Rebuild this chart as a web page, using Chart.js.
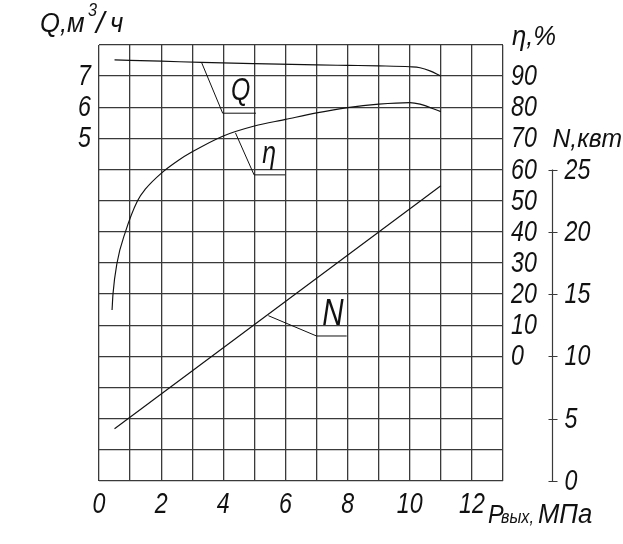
<!DOCTYPE html>
<html><head><meta charset="utf-8">
<script src="https://cdn.jsdelivr.net/npm/chart.js@4/dist/chart.umd.min.js"></script>
<style>html,body{margin:0;padding:0;background:#fff}</style>
</head><body>
<canvas id="c" width="623" height="544"></canvas>
<script>
// ---- data ----
const pressureQ = [0.5, 2.0, 3.3, 5.0, 7.0, 8.0, 9.0, 10.0, 10.33, 10.65, 11.0];
const flowQ     = [7.52, 7.48, 7.44, 7.40, 7.36, 7.345, 7.33, 7.30, 7.27, 7.17, 7.0];

const pressureEta = [0.42, 0.45, 0.58, 0.85, 1.24, 1.49, 2.0, 2.56, 3.0, 4.0, 5.0, 6.0, 7.0, 8.0, 9.0, 10.0, 10.33, 11.0];
const efficiency  = [14.9, 20, 30, 40, 50, 53.7, 58.8, 63.0, 65.7, 70.8, 74.0, 76.1, 78.2, 79.9, 81.0, 81.5, 81.0, 78.6];

const pressureN = [0.5, 11.0];
const powerN    = [4.2, 23.7];

// leader lines (data units)
const leaderQx = [3.30, 3.98, 5.05],  leaderQy = [7.44, 5.81, 5.81];
const leaderEtaX = [4.39, 4.99, 5.99], leaderEtaY = [71.8, 58.3, 58.3];
const leaderNx = [5.45, 7.0, 7.97],   leaderNy = [13.27, 11.64, 11.64];

const xTickLabels   = [0, 2, 4, 6, 8, 10, 12];
const qTickLabels   = [5, 6, 7];
const etaTickLabels = [0, 10, 20, 30, 40, 50, 60, 70, 80, 90];
const nTickLabels   = [0, 5, 10, 15, 20, 25];

// ---- styling ----
const FAM = '"Liberation Sans","DejaVu Sans",sans-serif';
const SX = 0.8;              // horizontal compression to mimic narrow drafting font
const GRID = '#3a3a3a';
const INK = '#111';

const zip = (xs, ys) => xs.map((x, i) => ({x, y: ys[i]}));
const lineDs = (data, axis, extra) => Object.assign({
  data, yAxisID: axis, borderColor: INK, borderWidth: 1.15, pointRadius: 0,
  fill: false, tension: 0
}, extra || {});

function txt(ctx, s, x, y, size, align, sx) {
  ctx.save();
  ctx.font = 'italic ' + size + 'px ' + FAM;
  ctx.textAlign = align || 'left';
  ctx.textBaseline = 'alphabetic';
  ctx.fillStyle = INK;
  ctx.translate(x, y);
  ctx.scale(sx || SX, 1);
  ctx.fillText(s, 0, 0);
  ctx.restore();
}

const overlay = {
  id: 'overlay',
  afterDraw(chart) {
    const ctx = chart.ctx, s = chart.scales, ca = chart.chartArea;
    const X = v => s.x.getPixelForValue(v);
    ctx.save();
    // N axis line with crossing ticks
    const ax = Math.round(s.yN.left) + 0.5;
    ctx.strokeStyle = GRID; ctx.lineWidth = 1.2;
    ctx.beginPath();
    ctx.moveTo(ax, s.yN.getPixelForValue(0));
    ctx.lineTo(ax, s.yN.getPixelForValue(25));
    nTickLabels.forEach(v => {
      const py = Math.round(s.yN.getPixelForValue(v)) + 0.5;
      ctx.moveTo(ax - 4, py); ctx.lineTo(ax + 5, py);
    });
    ctx.stroke();
    ctx.restore();

    // tick labels
    xTickLabels.forEach(v => txt(ctx, String(v), X(v), ca.bottom + 32, 29, 'center'));
    qTickLabels.forEach(v => txt(ctx, String(v), ca.left - 8, s.yQ.getPixelForValue(v) + 9, 29, 'right'));
    etaTickLabels.forEach(v => txt(ctx, String(v), ca.right + 8, s.yEta.getPixelForValue(v) + 9, 29, 'left'));
    nTickLabels.forEach(v => txt(ctx, String(v), ax + 12, s.yN.getPixelForValue(v) + 9, 29, 'left'));

    // curve letters
    txt(ctx, 'Q', X(4.25), s.yQ.getPixelForValue(6.22), 31);
    txt(ctx, 'η', X(5.25), s.yEta.getPixelForValue(62.0), 31);
    txt(ctx, 'N', X(7.18), s.yN.getPixelForValue(12.5), 37);

    // axis titles
    txt(ctx, 'Q,м', 40, 32, 27, 'left', 0.95);
    txt(ctx, '3', 88, 16, 18, 'left', 0.9);
    txt(ctx, '/', 96, 33, 30, 'left', 1.0);
    txt(ctx, 'ч', 110, 32, 27, 'left', 0.95);
    txt(ctx, 'η,%', ca.right + 9, 45, 27, 'left', 0.95);
    txt(ctx, 'N,квт', ax, 147, 26, 'left', 0.95);
    txt(ctx, 'Р', 488, 523, 26, 'left', 0.9);
    txt(ctx, 'вых,', 501, 523, 19, 'left', 0.85);
    txt(ctx, 'МПа', 538, 523, 27, 'left', 0.95);
  }
};

new Chart(document.getElementById('c'), {
  type: 'line',
  data: {
    datasets: [
      lineDs(zip(pressureQ, flowQ), 'yQ', {cubicInterpolationMode: 'monotone'}),
      lineDs(zip(pressureEta, efficiency), 'yEta', {cubicInterpolationMode: 'monotone'}),
      lineDs(zip(pressureN, powerN), 'yN'),
      lineDs(zip(leaderQx, leaderQy), 'yQ', {borderWidth: 1}),
      lineDs(zip(leaderEtaX, leaderEtaY), 'yEta', {borderWidth: 1}),
      lineDs(zip(leaderNx, leaderNy), 'yN', {borderWidth: 1})
    ]
  },
  options: {
    responsive: false,
    animation: false,
    layout: {padding: {top: 45, left: 0, right: 0, bottom: 0}},
    plugins: {legend: {display: false}, tooltip: {enabled: false}},
    scales: {
      x: {
        type: 'linear', min: 0, max: 13, position: 'bottom',
        afterFit: sc => { sc.height = 63; },
        border: {display: false},
        grid: {color: GRID, lineWidth: 1.3, drawTicks: false},
        ticks: {stepSize: 1, autoSkip: false, display: false}
      },
      yQ: {
        position: 'left', min: -6, max: 8,
        afterFit: sc => { sc.width = 99; },
        border: {display: false},
        grid: {display: false, drawTicks: false},
        ticks: {stepSize: 1, display: false}
      },
      yEta: {
        position: 'right', min: -40, max: 100, weight: 0,
        afterFit: sc => { sc.width = 49; },
        border: {display: false},
        grid: {color: GRID, lineWidth: 1.3, drawTicks: false},
        ticks: {stepSize: 10, autoSkip: false, display: false}
      },
      yN: {
        position: 'right', min: 0, max: 35, weight: 1,
        afterFit: sc => { sc.width = 71; },
        border: {display: false},
        grid: {display: false, drawTicks: false},
        ticks: {stepSize: 5, display: false}
      }
    }
  },
  plugins: [overlay]
});
</script>
</body></html>
